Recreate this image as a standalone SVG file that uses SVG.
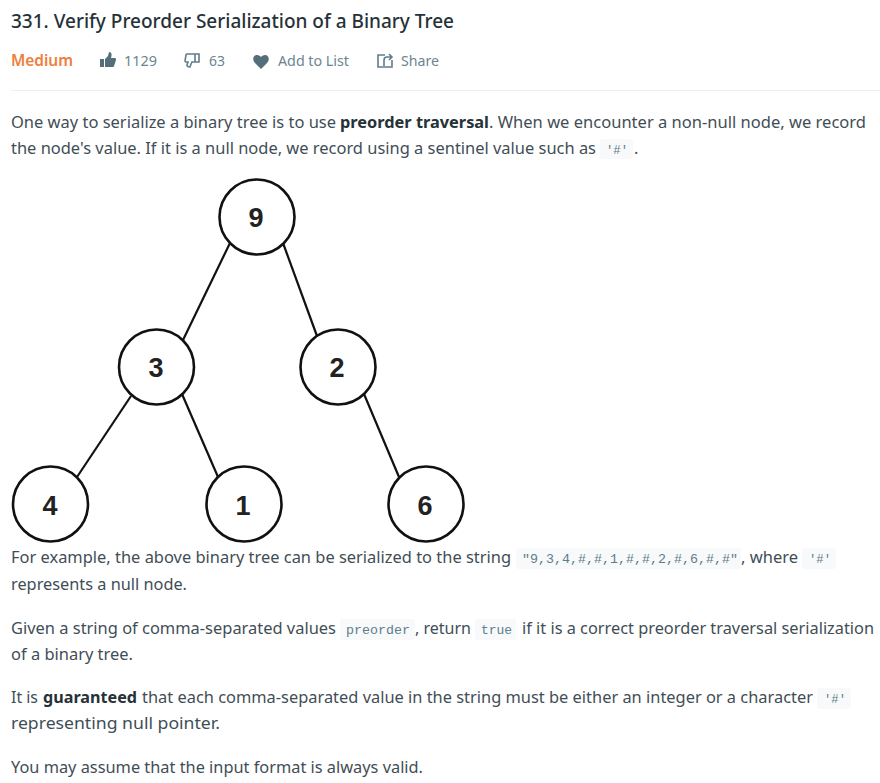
<svg xmlns="http://www.w3.org/2000/svg" width="880" height="783" viewBox="0 0 880 783">
<style>
text{font-family:"Noto Sans","Open Sans","Liberation Sans",sans-serif}
.b{font-size:16.2px;fill:#3f4e56}
.s{font-weight:700;fill:#263238}
.c{font-family:"Liberation Mono","DejaVu Sans Mono",monospace;font-size:13.500px;fill:#607d8b}
.m{font-size:15px;fill:#6b8591}
.bg{fill:#f7f9fa}
.n{fill:#fff;stroke:#111;stroke-width:2.6}
.e{stroke:#111;stroke-width:2.2;fill:none}
.l{font-family:"Liberation Sans",Arial,sans-serif;font-size:27px;font-weight:700;fill:#222;text-anchor:middle}
.i{fill:#546e7a}
.o{fill:none;stroke:#607d8b;stroke-width:1.6}
</style>
<rect width="880" height="783" fill="#fff"/>
<g id="header">
<text x="11" y="28" font-size="19" font-weight="500" fill="#263238" textLength="443" lengthAdjust="spacingAndGlyphs">331. Verify Preorder Serialization of a Binary Tree</text>
<text x="11" y="66" font-size="15.500" font-weight="600" fill="#ef7d3c" textLength="62" lengthAdjust="spacingAndGlyphs">Medium</text>
<path class="i" d="M100 59h4v8h-4zM105 59l3-3 1-4c3 0 3 3 2 6h4c1 0 1 1 1 2l-2 6c0 1-1 1-2 1h-7z"/>
<text class="m" x="124" y="66" textLength="33" lengthAdjust="spacingAndGlyphs">1129</text>
<path class="o" d="M187 54h8v8h-3l-1 2-1 3c-2 0-3-1-3-2l1-3h-2c-1 0-1-1-1-1l1-6c0-1 1-1 1-1zM195 54h4v8h-4"/>
<text class="m" x="209" y="66" textLength="16" lengthAdjust="spacingAndGlyphs">63</text>
<path class="i" d="M261 69l-6-6c-3-3-2-8 2-8 2 0 3 1 4 2 1-1 2-2 4-2 4 0 5 5 2 8z"/>
<text class="m" x="278" y="66" textLength="71" lengthAdjust="spacingAndGlyphs">Add to List</text>
<path class="o" d="M385 55h-7v12h14v-7M384 66v-6c0-2 1-3 3-3h5M389 54l3 3-3 3"/>
<text class="m" x="401" y="66" textLength="38" lengthAdjust="spacingAndGlyphs">Share</text>
<rect x="11" y="90" width="869" height="1" fill="#eceff1"/>
</g>
<g id="paragraph-1">
<text class="b" x="11" y="128" textLength="325" lengthAdjust="spacingAndGlyphs">One way to serialize a binary tree is to use</text>
<text class="b s" x="340" y="128" textLength="149" lengthAdjust="spacingAndGlyphs">preorder traversal</text>
<text class="b" x="489" y="128" textLength="377" lengthAdjust="spacingAndGlyphs">. When we encounter a non-null node, we record</text>
<text class="b" x="11" y="154" textLength="585" lengthAdjust="spacingAndGlyphs">the node's value. If it is a null node, we record using a sentinel value such as</text>
<rect class="bg" x="600" y="139" width="33" height="20" rx="3"/>
<text class="c" x="606" y="154" textLength="22" lengthAdjust="spacingAndGlyphs">'#'</text>
<text class="b" x="634" y="154">.</text>
</g>
<g id="connectors">
<line class="e" x1="230" y1="243" x2="183" y2="340"/>
<line class="e" x1="283" y1="243" x2="317" y2="336"/>
<line class="e" x1="131" y1="396" x2="77" y2="477"/>
<line class="e" x1="182" y1="394" x2="218" y2="477"/>
<line class="e" x1="364" y1="394" x2="399" y2="477"/>
</g>
<g id="node-9"><circle class="n" cx="257" cy="217" r="37.5"/><text class="l" x="256" y="227">9</text></g>
<g id="node-3"><circle class="n" cx="156.500" cy="367" r="37.5"/><text class="l" x="156" y="377">3</text></g>
<g id="node-2"><circle class="n" cx="338" cy="367" r="37.5"/><text class="l" x="337" y="377">2</text></g>
<g id="node-4"><circle class="n" cx="50.500" cy="504" r="37.500"/><text class="l" x="50" y="515">4</text></g>
<g id="node-1"><circle class="n" cx="244" cy="504" r="37.500"/><text class="l" x="243" y="515">1</text></g>
<g id="node-6"><circle class="n" cx="426" cy="504" r="37.500"/><text class="l" x="425" y="515">6</text></g>
<g id="paragraph-2">
<text class="b" x="11" y="563" textLength="500" lengthAdjust="spacingAndGlyphs">For example, the above binary tree can be serialized to the string</text>
<rect class="bg" x="516" y="548" width="225" height="21" rx="3"/>
<text class="c" x="522" y="563" textLength="216" lengthAdjust="spacingAndGlyphs">"9,3,4,#,#,1,#,#,2,#,6,#,#"</text>
<text class="b" x="741" y="563" textLength="57" lengthAdjust="spacingAndGlyphs">, where</text>
<rect class="bg" x="802" y="548" width="34" height="21" rx="3"/>
<text class="c" x="809" y="563" textLength="22" lengthAdjust="spacingAndGlyphs">'#'</text>
<text class="b" x="11" y="590" textLength="176" lengthAdjust="spacingAndGlyphs">represents a null node.</text>
</g>
<g id="paragraph-3">
<text class="b" x="11" y="634" textLength="325" lengthAdjust="spacingAndGlyphs">Given a string of comma-separated values</text>
<rect class="bg" x="340" y="619" width="75" height="21" rx="3"/>
<text class="c" x="346" y="634" textLength="64" lengthAdjust="spacingAndGlyphs">preorder</text>
<text class="b" x="415" y="634" textLength="56" lengthAdjust="spacingAndGlyphs">, return</text>
<rect class="bg" x="475" y="619" width="41" height="21" rx="3"/>
<text class="c" x="481" y="634" textLength="31" lengthAdjust="spacingAndGlyphs">true</text>
<text class="b" x="522" y="634" textLength="352" lengthAdjust="spacingAndGlyphs">if it is a correct preorder traversal serialization</text>
<text class="b" x="11" y="660" textLength="122" lengthAdjust="spacingAndGlyphs">of a binary tree.</text>
</g>
<g id="paragraph-4">
<text class="b" x="11" y="703" textLength="27" lengthAdjust="spacingAndGlyphs">It is</text>
<text class="b s" x="43" y="703" textLength="94" lengthAdjust="spacingAndGlyphs">guaranteed</text>
<text class="b" x="142" y="703" textLength="671" lengthAdjust="spacingAndGlyphs">that each comma-separated value in the string must be either an integer or a character</text>
<rect class="bg" x="817" y="688" width="34" height="21" rx="3"/>
<text class="c" x="824" y="703" textLength="22" lengthAdjust="spacingAndGlyphs">'#'</text>
<text class="b" x="11" y="729" textLength="209" lengthAdjust="spacingAndGlyphs">representing null pointer.</text>
</g>
<g id="paragraph-5">
<text class="b" x="11" y="773" textLength="412" lengthAdjust="spacingAndGlyphs">You may assume that the input format is always valid.</text>
</g>
</svg>
